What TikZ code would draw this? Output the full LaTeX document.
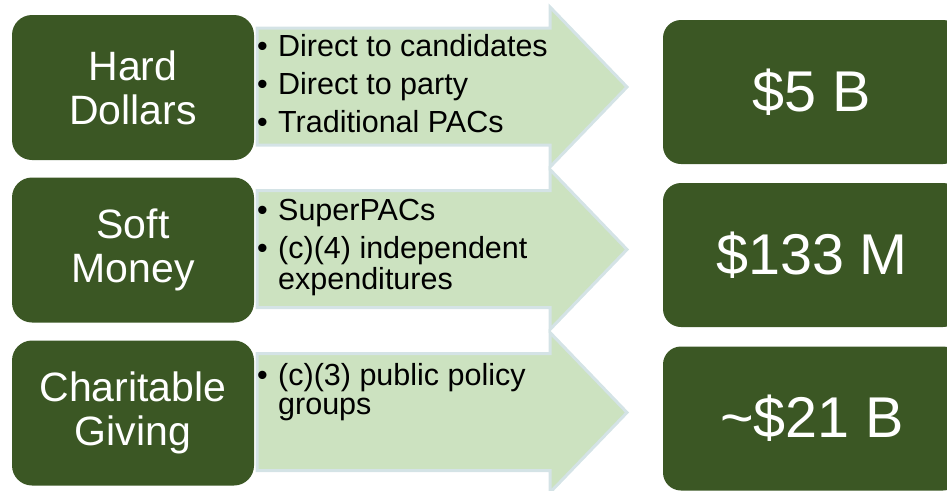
\documentclass[tikz,border=0pt]{standalone}
\usepackage{fontspec}
\setmainfont{Liberation Sans}
\definecolor{dgreen}{RGB}{59,87,36}
\definecolor{lgreen}{RGB}{204,226,192}
\definecolor{aedge}{RGB}{212,227,230}
\begin{document}
\begin{tikzpicture}[x=1pt,y=-1pt,
  catbox/.style={fill=dgreen, rounded corners=20pt, minimum width=242pt, minimum height=145pt, inner sep=0pt, text=white, align=center, font=\fontsize{41}{44}\selectfont},
  sumbox/.style={fill=dgreen, rounded corners=18pt, minimum width=298pt, minimum height=144pt, inner sep=0pt, text=white, font=\fontsize{57.5}{60}\selectfont},
  flowarrow/.style={fill=lgreen, draw=aedge, line width=3pt, line join=miter},
  bullets/.style={anchor=base west, inner sep=0pt, font=\fontsize{30.5}{29}\selectfont}
]
\useasboundingbox (0,0) rectangle (947,490);
\clip (0,0) rectangle (947,490);
% arrows
\foreach \y in {0,162.5,325.5}{
  \draw[flowarrow] (257,{\y+28}) -- (550,{\y+28}) -- (550,{\y+7}) -- (627,{\y+87})
    -- (550,{\y+167}) -- (550,{\y+145}) -- (257,{\y+145}) -- cycle;
}
% left category boxes
\node[catbox] (hard) at (133,87.5) {Hard\\Dollars};
\node[catbox] (soft) at (133,250) {Soft\\Money};
\node[catbox] (char) at (133,413) {Charitable\\Giving};
% bullet texts
\node[bullets] (t1) at (257,56) {\begin{tabular}[t]{@{}p{21pt}@{}l@{}}
  •&Direct to candidates\\[7.5pt]
  •&Direct to party\\[7.5pt]
  •&Traditional PACs\end{tabular}};
\node[bullets] (t2) at (257,220) {\begin{tabular}[t]{@{}p{21pt}@{}l@{}}
  •&SuperPACs\\[8pt]
  •&(c)(4) independent\\
   &expenditures\end{tabular}};
\node[bullets] (t3) at (257,385) {\begin{tabular}[t]{@{}p{21pt}@{}l@{}}
  •&(c)(3) public policy\\
   &groups\end{tabular}};
% right summary boxes
\node[sumbox] (s1) at (812,92) {\$5 B};
\node[sumbox] (s2) at (812,255) {\$133 M};
\node[sumbox] (s3) at (812,418.5) {\textasciitilde\$21 B};
\end{tikzpicture}
\end{document}
